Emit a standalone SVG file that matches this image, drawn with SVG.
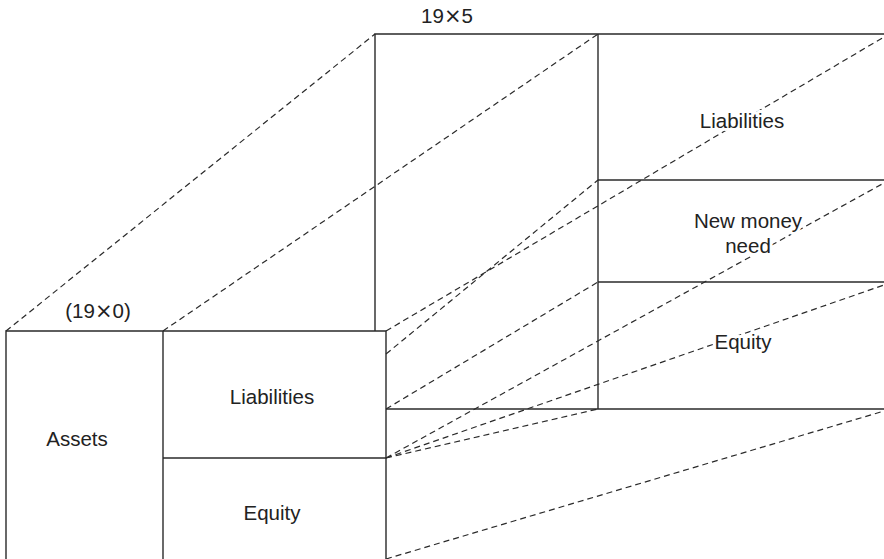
<svg xmlns="http://www.w3.org/2000/svg" width="884" height="559" viewBox="0 0 884 559">
<style>
.s{fill:none;stroke:#2a2a2a;stroke-width:1.4}
.d{fill:none;stroke:#2a2a2a;stroke-width:1.2;stroke-dasharray:6 4}
text{font-family:"Liberation Sans",Arial,sans-serif;font-size:20.5px;fill:#222;text-anchor:middle}
.x{font-family:"DejaVu Sans",sans-serif;font-size:21px}
.k{stroke:#fff;stroke-width:6;paint-order:stroke;stroke-linejoin:round}
</style>
<rect width="884" height="559" fill="#fff"/>
<g id="connectors">
<line class="d" x1="6" y1="331" x2="375" y2="34"/>
<line class="d" x1="163" y1="331" x2="598" y2="34"/>
<line class="d" x1="386" y1="331" x2="884" y2="37"/>
<line class="d" x1="386" y1="354" x2="598" y2="180"/>
<line class="d" x1="386" y1="409" x2="598" y2="282"/>
<line class="d" x1="386" y1="458" x2="884" y2="183"/>
<line class="d" x1="386" y1="458" x2="884" y2="285"/>
<line class="d" x1="386" y1="458" x2="598" y2="409"/>
<line class="d" x1="386" y1="559" x2="884" y2="411"/>
</g>
<g id="back-box">
<polyline class="s" points="375,331 375,34 884,34"/>
<line class="s" x1="598" y1="34" x2="598" y2="409"/>
<line class="s" x1="598" y1="180" x2="884" y2="180"/>
<line class="s" x1="598" y1="282" x2="884" y2="282"/>
<line class="s" x1="386" y1="409" x2="884" y2="409"/>
<text x="447" y="23">19<tspan class="x">×</tspan>5</text>
</g>
<g id="back-liabilities"><text class="k" x="742" y="128">Liabilities</text></g>
<g id="back-new-money"><text class="k" x="748" y="228">New money</text><text class="k" x="748" y="253">need</text></g>
<g id="back-equity"><text class="k" x="743" y="349">Equity</text></g>
<g id="front-box">
<polyline class="s" points="6,560 6,331 386,331 386,560"/>
<line class="s" x1="163" y1="331" x2="163" y2="560"/>
<line class="s" x1="163" y1="458" x2="386" y2="458"/>
<text x="98" y="318">(19<tspan class="x">×</tspan>0)</text>
</g>
<g id="assets"><text x="77" y="446">Assets</text></g>
<g id="front-liabilities"><text x="272" y="404">Liabilities</text></g>
<g id="front-equity"><text x="272" y="520">Equity</text></g>
</svg>
